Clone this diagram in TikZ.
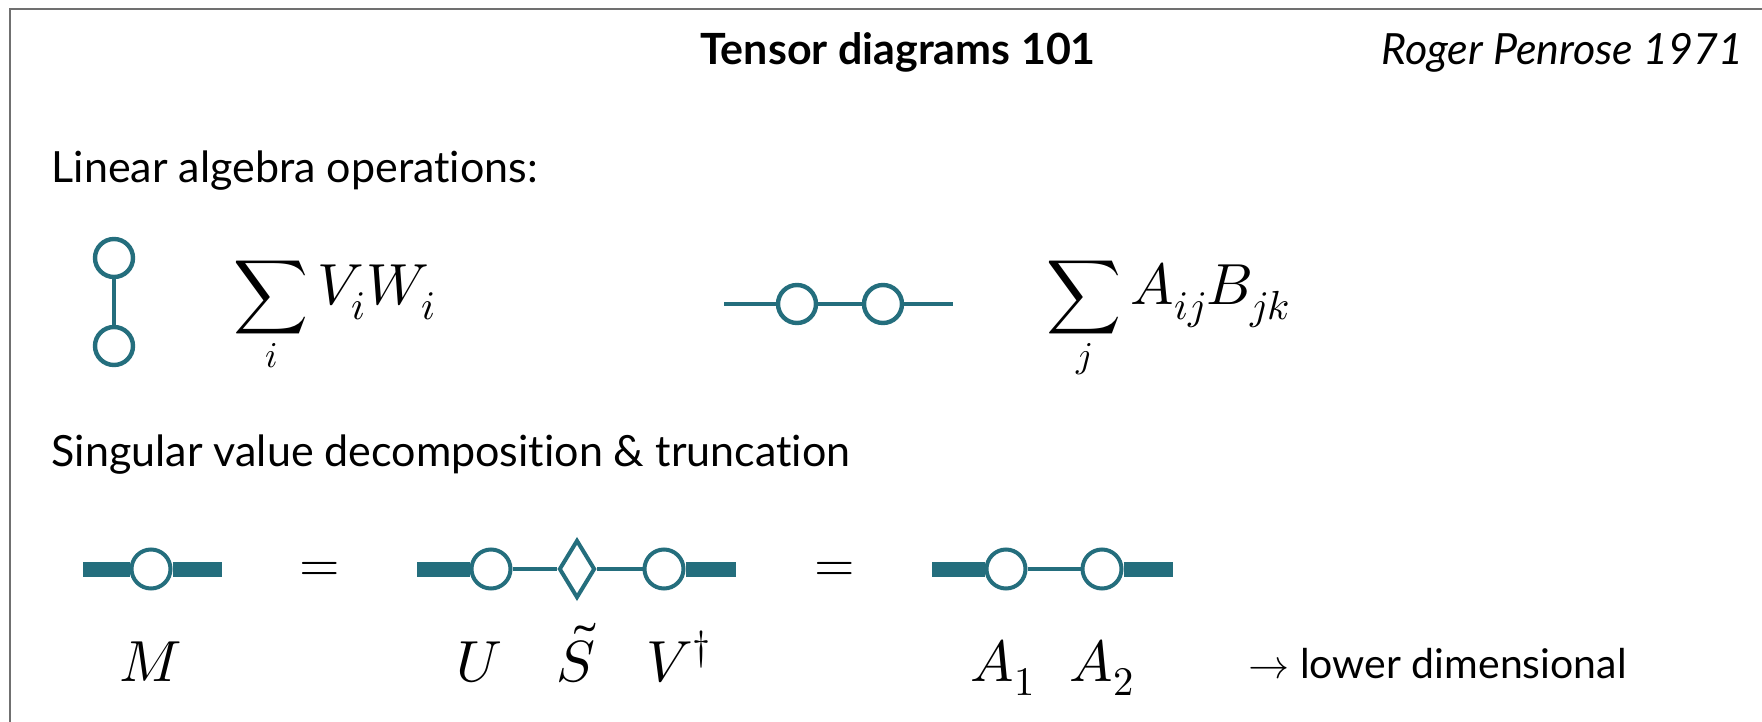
\documentclass[tikz,border=0pt]{standalone}
\usepackage{fontspec}
\usepackage{unicode-math}
\setmainfont{Lato}[Ligatures=NoCommon]
\usetikzlibrary{shapes.geometric}

\definecolor{tealnet}{RGB}{36,110,125}
\definecolor{framegray}{RGB}{112,112,112}

\tikzset{every picture/.style={line width=0.75pt}}
\tikzset{
  slidetext/.style={inner sep=0pt, font=\fontsize{21.5}{25}\selectfont},
  headtext/.style={inner sep=0pt, font=\fontsize{21.5}{25}\selectfont\bfseries},
  citetext/.style={inner sep=0pt, font=\fontsize{21.5}{25}\selectfont\itshape},
  mathtext/.style={inner sep=0pt, font=\fontsize{26}{30}\selectfont},
  labeltext/.style={inner sep=0pt, font=\fontsize{29}{33}\selectfont},
  vertex/.style={circle, draw=tealnet, line width=2.2pt, fill=white, minimum size=19pt, inner sep=0pt},
  svdvertex/.style={vertex, line width=2pt, minimum size=19.5pt},
  core/.style={diamond, draw=tealnet, line width=2pt, fill=white, minimum width=18pt, minimum height=29pt, inner sep=0pt},
  bond/.style={draw=tealnet, line width=2.2pt},
  thinbond/.style={draw=tealnet, line width=1.6pt},
  fatbond/.style={draw=tealnet, line width=7.5pt}
}
\newcommand{\bigterm}[1]{\raisebox{0.12em}{\fontsize{29}{33}\selectfont$#1$}}

\begin{document}
\begin{tikzpicture}[x=0.5pt,y=0.5pt,yscale=-1,xscale=1]
\useasboundingbox (0,0) rectangle (1762,722);
\fill[white] (0,0) rectangle (1762,722);

%Straight Lines (frame)
\draw[framegray, line width=1.25pt] (10,722) -- (10,9) -- (1762,9);

% Text Node
\node (title) at (898,65) [headtext, anchor=base] {Tensor diagrams 101};
% Text Node
\node (cite) at (1744,65) [citetext, anchor=base east] {Roger Penrose 1971};
% Text Node
\node (linalg) at (51,183) [slidetext, anchor=base west] {Linear algebra operations:};
% Text Node
\node (svdhead) at (51,466) [slidetext, anchor=base west] {Singular value decomposition \& truncation};

%Shape: Circle (inner product)
\node (v) at (114,258) [vertex] {};
\node (w) at (114,346) [vertex] {};
\draw[bond] (v) -- (w);
% Text Node
\node (sumVW) at (233,311) [mathtext, anchor=base west] {$\displaystyle\sum_i \bigterm{V_iW_i}$};

%Shape: Circle (matrix product)
\coordinate (abL) at (724,304);
\coordinate (abR) at (953,304);
\node (a) at (797,304) [vertex] {};
\node (b) at (883,304) [vertex] {};
\draw[bond] (abL) -- (a);
\draw[bond] (a) -- (b);
\draw[bond] (b) -- (abR);
% Text Node
\node (sumAB) at (1046,311) [mathtext, anchor=base west] {$\displaystyle\sum_j \bigterm{A_{ij}B_{jk}}$};

%Shape: Circle (M)
\coordinate (mL) at (83,569);
\coordinate (mR) at (222,569);
\node (m) at (151,569) [svdvertex] {};
\draw[fatbond] (mL) -- (m);
\draw[fatbond] (m) -- (mR);

% Text Node
\node (eqA) at (320,572) [mathtext] {$=$};

%Shape: Circle + Diamond (U S V)
\coordinate (usvL) at (417,569);
\coordinate (usvR) at (736,569);
\node (u) at (491,569) [svdvertex] {};
\node (s) at (577,569) [core] {};
\node (vd) at (664,569) [svdvertex] {};
\draw[fatbond] (usvL) -- (u);
\draw[thinbond] (u) -- (s);
\draw[thinbond] (s) -- (vd);
\draw[fatbond] (vd) -- (usvR);

% Text Node
\node (eqB) at (835,572) [mathtext] {$=$};

%Shape: Circle (A1 A2)
\coordinate (trL) at (932,569);
\coordinate (trR) at (1173,569);
\node (a1) at (1006,569) [svdvertex] {};
\node (a2) at (1102,569) [svdvertex] {};
\draw[fatbond] (trL) -- (a1);
\draw[thinbond] (a1) -- (a2);
\draw[fatbond] (a2) -- (trR);

% Text Node
\node (lblM) at (151,681) [labeltext, anchor=base] {$M$};
\node (lblU) at (479,681) [labeltext, anchor=base] {$U$};
\node (lblS) at (576,681) [labeltext, anchor=base] {$\tilde{S}$};
\node (lblV) at (679,681) [labeltext, anchor=base] {$V^{\dagger}$};
\node (lblA1) at (1003,681) [labeltext, anchor=base] {$A_1$};
\node (lblA2) at (1102,681) [labeltext, anchor=base] {$A_2$};
% Text Node
\node (lower) at (1248,678) [slidetext, font=\fontsize{20.5}{24}\selectfont, anchor=base west] {$\rightarrow$ lower dimensional};

\end{tikzpicture}
\end{document}
